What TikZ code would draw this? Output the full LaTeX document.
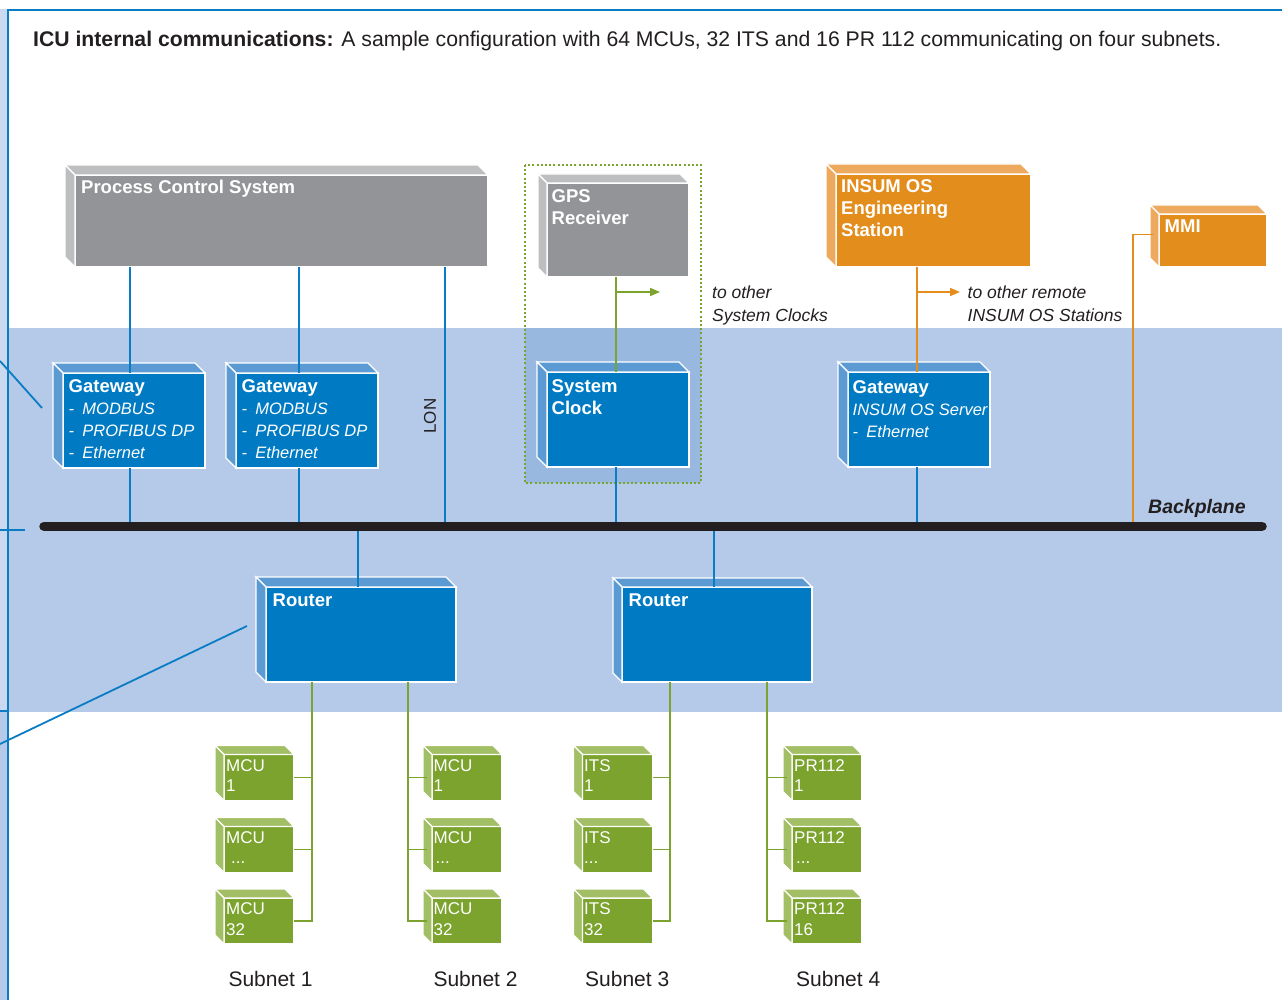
\documentclass[tikz,border=0pt]{standalone}
\usepackage{fontspec}
\setmainfont{Liberation Sans}
\usetikzlibrary{arrows.meta,calc}
\definecolor{bandc}{HTML}{B4CAE8}
\definecolor{stripc}{HTML}{C9D9EF}
\definecolor{dotreg}{HTML}{98B8E0}
\definecolor{lblue}{HTML}{0A7CC4}
\definecolor{bfront}{HTML}{007BC3}
\definecolor{bside}{HTML}{5B9AD3}
\definecolor{gfront}{HTML}{929497}
\definecolor{gside}{HTML}{BDBEC0}
\definecolor{ofront}{HTML}{E38D1D}
\definecolor{oside}{HTML}{EDAA5E}
\definecolor{grfront}{HTML}{7BA32E}
\definecolor{grside}{HTML}{A2BF65}
\definecolor{grline}{HTML}{7BA32E}
\definecolor{bpc}{HTML}{231F20}
\definecolor{txt}{HTML}{231F20}
\newcommand\myfs[2]{\fontsize{#1}{#2}\selectfont}
\newcommand\itl[1]{{\normalfont\itshape\myfs{16.5}{22}#1}}
% 3D box: name, x, y, w, h, front colour, side colour, depth
\newcommand\tdbox[8]{%
  \node[boxface, fill=#6, minimum width=#4pt, minimum height=#5pt, anchor=north west] (#1) at (#2,#3) {};
  \filldraw[sideface, fill=#7] (#1.north west) -- ++(-#8,-#8) -- ([shift={(-#8,-#8)}]#1.north east) -- (#1.north east) -- cycle;
  \filldraw[sideface, fill=#7] (#1.north west) -- ++(-#8,-#8) -- ([shift={(-#8,-#8)}]#1.south west) -- (#1.south west) -- cycle;
}
\begin{document}
\begin{tikzpicture}[x=1pt,y=-1pt,
  boxface/.style={draw=white, line width=1.3pt, inner sep=0pt, outer sep=0pt},
  sideface/.style={draw=white, line width=1.3pt, line join=miter},
  bl/.style={draw=lblue, line width=1.6pt},
  gl/.style={draw=grline, line width=1.8pt},
  ol/.style={draw=ofront, line width=1.6pt},
  ttl/.style={anchor=north west, inner sep=0pt, text=white, font=\bfseries\myfs{18.5}{22}, align=left},
  gtxt/.style={anchor=north west, inner sep=0pt, text=white, font=\myfs{17}{20.5}, align=left},
  note/.style={anchor=north west, inner sep=0pt, text=txt, font=\itshape\myfs{17.5}{22.3}, align=left},
  subl/.style={anchor=base west, inner sep=0pt, text=txt, font=\myfs{21}{24}},
  arr/.style={-{Triangle[length=10pt,width=8pt]}}
]
\useasboundingbox (0,0) rectangle (1282,1000);
% background
\fill[white] (0,0) rectangle (1282,1000);
\fill[stripc] (0,9) rectangle (8,711);
\fill[bandc] (0,711) rectangle (8,1000);
\fill[bandc] (8,328) rectangle (1282,712);
\fill[dotreg] (525,328) rectangle (701,483);
\draw[lblue, line width=2.2pt] (8,1000) -- (8,10) -- (1282,10);
\draw[lblue, line width=1.8pt] (0,530) -- (25,530);
\draw[lblue, line width=1.8pt] (0,711) -- (8,711);
\draw[lblue, line width=1.8pt] (0,361) -- (42,408);
\draw[lblue, line width=1.8pt] (0,744) -- (247,626);
\draw[grline, line width=2pt, dash pattern=on 2pt off 2.2pt] (525,165) rectangle (701,483);

% title
\node[anchor=base west, inner sep=0pt, text=txt, font=\myfs{21.2}{24}] (title) at (33,47)
  {\textbf{ICU internal communications:} A sample configuration with 64 MCUs, 32 ITS and 16 PR 112 communicating on four subnets.};

% boxes
\tdbox{pcs}{75}{175}{413}{92}{gfront}{gside}{10}
\tdbox{gw1}{63}{373}{142}{95}{bfront}{bside}{10}
\tdbox{gw2}{236}{373}{142}{95}{bfront}{bside}{10}
\tdbox{gps}{547}{183}{142}{94}{gfront}{gside}{9}
\tdbox{sc}{547}{372}{142}{95}{bfront}{bside}{10}
\tdbox{ies}{836}{174}{195}{93}{ofront}{oside}{10}
\tdbox{mmi}{1159}{214}{108}{53}{ofront}{oside}{9}
\tdbox{gw3}{848}{372}{142}{95}{bfront}{bside}{10}
\tdbox{ra}{266}{587}{190}{95}{bfront}{bside}{10}
\tdbox{rb}{622}{587}{190}{95}{bfront}{bside}{9}
\tdbox{sa1}{224}{754.5}{70}{46}{grfront}{grside}{9}
\tdbox{sa2}{224}{826.5}{70}{46}{grfront}{grside}{9}
\tdbox{sa3}{224}{898}{70}{46}{grfront}{grside}{9}
\tdbox{sb1}{432}{754.5}{70}{46}{grfront}{grside}{9}
\tdbox{sb2}{432}{826.5}{70}{46}{grfront}{grside}{9}
\tdbox{sb3}{432}{898}{70}{46}{grfront}{grside}{9}
\tdbox{sc1}{582.5}{754.5}{70}{46}{grfront}{grside}{9}
\tdbox{sc2}{582.5}{826.5}{70}{46}{grfront}{grside}{9}
\tdbox{sc3}{582.5}{898}{70}{46}{grfront}{grside}{9}
\tdbox{sd1}{792}{754.5}{70}{46}{grfront}{grside}{9}
\tdbox{sd2}{792}{826.5}{70}{46}{grfront}{grside}{9}
\tdbox{sd3}{792}{898}{70}{46}{grfront}{grside}{9}

% box labels
\node[ttl] (pcsl) at ($(pcs.north west)+(6,4.5)$) {Process Control System};
\node[ttl] (gw1l) at ($(gw1.north west)+(5.5,6.5)$) {Gateway\\
  \itl{-\enspace MODBUS}\\
  \itl{-\enspace PROFIBUS DP}\\
  \itl{-\enspace Ethernet}};
\node[ttl] (gw2l) at ($(gw2.north west)+(5.5,6.5)$) {Gateway\\
  \itl{-\enspace MODBUS}\\
  \itl{-\enspace PROFIBUS DP}\\
  \itl{-\enspace Ethernet}};
\node[ttl] (gpsl) at ($(gps.north west)+(4.5,6.5)$) {GPS\\Receiver};
\node[ttl] (scl) at ($(sc.north west)+(4.5,7)$) {System\\Clock};
\node[ttl] (iesl) at ($(ies.north west)+(5,5)$) {INSUM OS\\Engineering\\Station};
\node[ttl] (mmil) at ($(mmi.north west)+(5.5,6)$) {MMI};
\node[ttl] (gw3l) at ($(gw3.north west)+(4.5,8)$) {Gateway\\
  \itl{INSUM OS Server}\\
  \itl{-\enspace Ethernet}};
\node[ttl] (ral) at ($(ra.north west)+(6.5,6.5)$) {Router};
\node[ttl] (rbl) at ($(rb.north west)+(6.5,6.5)$) {Router};

\node[gtxt] (sa1l) at ($(sa1.north west)+(2,4.5)$) {MCU\\1};
\node[gtxt] (sa2l) at ($(sa2.north west)+(2,4.5)$) {MCU\\\hspace{5pt}...};
\node[gtxt] (sa3l) at ($(sa3.north west)+(2,4.5)$) {MCU\\32};
\node[gtxt] (sb1l) at ($(sb1.north west)+(1.5,4.5)$) {MCU\\1};
\node[gtxt] (sb2l) at ($(sb2.north west)+(1.5,4.5)$) {MCU\\\hspace{2pt}...};
\node[gtxt] (sb3l) at ($(sb3.north west)+(1.5,4.5)$) {MCU\\32};
\node[gtxt] (sc1l) at ($(sc1.north west)+(1.5,4.5)$) {ITS\\1};
\node[gtxt] (sc2l) at ($(sc2.north west)+(1.5,4.5)$) {ITS\\...};
\node[gtxt] (sc3l) at ($(sc3.north west)+(1.5,4.5)$) {ITS\\32};
\node[gtxt] (sd1l) at ($(sd1.north west)+(2,4.5)$) {PR112\\1};
\node[gtxt] (sd2l) at ($(sd2.north west)+(2,4.5)$) {PR112\\\hspace{2pt}...};
\node[gtxt] (sd3l) at ($(sd3.north west)+(2,4.5)$) {PR112\\16};

% coordinates for vertical runs
\coordinate (bpa) at (44,526.3);
\coordinate (bpb) at (1262,526.3);
\coordinate (xa) at (130,0);
\coordinate (xb) at (299,0);
\coordinate (xlon) at (445,0);
\coordinate (xg) at (616,0);
\coordinate (xo) at (917,0);
\coordinate (xm) at (1133,0);
\coordinate (xr1) at (358,0);
\coordinate (xr2) at (714,0);
\coordinate (xs1) at (312,0);
\coordinate (xs2) at (408,0);
\coordinate (xs3) at (670,0);
\coordinate (xs4) at (767,0);
\coordinate (ga) at (616,292);
\coordinate (oa) at (917,292);

% connectors upper
\draw[bl] (pcs.south -| xa) -- (gw1.north -| xa);
\draw[bl] (pcs.south -| xb) -- (gw2.north -| xb);
\draw[bl] (gw1.south -| xa) -- (bpa -| xa);
\draw[bl] (gw2.south -| xb) -- (bpa -| xb);
\draw[bl] (pcs.south -| xlon) -- (bpa -| xlon);
\node[rotate=90, inner sep=0pt, text=txt, font=\myfs{17}{20}] (lon) at (430,416) {LON};
\draw[gl] (gps.south -| xg) -- (sc.north -| xg);
\draw[gl, arr] (ga) -- ++(44,0);
\draw[bl] (sc.south -| xg) -- (bpa -| xg);
\draw[ol] (ies.south -| xo) -- (gw3.north -| xo);
\draw[ol, arr] (oa) -- ++(43,0);
\draw[bl] (gw3.south -| xo) -- (bpa -| xo);
\draw[ol] ([shift={(-6,-6)}]mmi.west) -| (bpa -| xm);
\node[note] (n1) at (712,286) {to other\\System Clocks};
\node[note] (n2) at (967.5,286) {to other remote\\INSUM OS Stations};

% routers
\draw[bl] (bpa -| xr1) -- (ra.north -| xr1);
\draw[bl] (bpa -| xr2) -- (rb.north -| xr2);

% backplane
\draw[bpc, line width=9.5pt, line cap=round] (bpa) -- (bpb);
\node[anchor=base west, inner sep=0pt, text=txt, font=\bfseries\itshape\myfs{19.5}{22}] (bpl) at (1148,513.3) {Backplane};

% subnets
\draw[gl] (ra.south -| xs1) |- (sa3.east);
\draw[gl] (sa1.east) -- (sa1.east -| xs1);
\draw[gl] (sa2.east) -- (sa2.east -| xs1);
\draw[gl] (ra.south -| xs2) |- ([shift={(-5,0)}]sb3.west);
\draw[gl] (sb1.west -| xs2) -- ([shift={(-5,0)}]sb1.west);
\draw[gl] (sb2.west -| xs2) -- ([shift={(-5,0)}]sb2.west);
\draw[gl] (rb.south -| xs3) |- (sc3.east);
\draw[gl] (sc1.east) -- (sc1.east -| xs3);
\draw[gl] (sc2.east) -- (sc2.east -| xs3);
\draw[gl] (rb.south -| xs4) |- ([shift={(-5,0)}]sd3.west);
\draw[gl] (sd1.west -| xs4) -- ([shift={(-5,0)}]sd1.west);
\draw[gl] (sd2.west -| xs4) -- ([shift={(-5,0)}]sd2.west);

\node[subl] (sn1) at (228.3,986) {Subnet 1};
\node[subl] (sn2) at (433.3,986) {Subnet 2};
\node[subl] (sn3) at (585,986) {Subnet 3};
\node[subl] (sn4) at (796,986) {Subnet 4};
\end{tikzpicture}
\end{document}
